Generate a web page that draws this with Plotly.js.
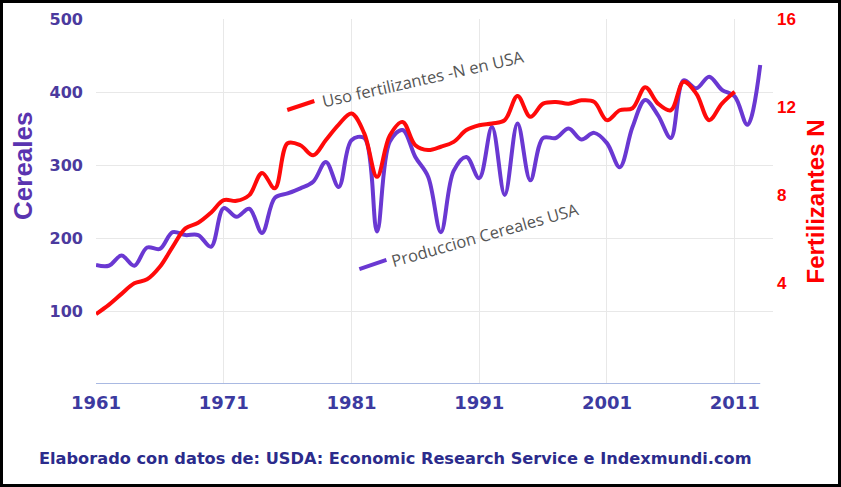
<!DOCTYPE html>
<html>
<head>
<meta charset="utf-8">
<script src="https://cdn.plot.ly/plotly-3.0.1.min.js"></script>
<style>
  html, body { margin: 0; padding: 0; background: #fff; }
  #wrap { position: relative; width: 841px; height: 487px; }
  #chart { width: 841px; height: 487px; }
  #frame { position: absolute; left: 0; top: 0; width: 841px; height: 487px; box-sizing: border-box; border: 3px solid #000; pointer-events: none; }
</style>
</head>
<body>
<div id="wrap"><div id="chart"></div><div id="frame"></div></div>
<script>
const years = [];
for (let y = 1961; y <= 2013; y++) years.push(y);

const cereales = [163,162,176,162,187,185,208,204,204,188,
                  241,229,240,207,255,261,268,277,304,270,
                  334,337,209,332,348,311,284,208,292,311,
                  282,352,259,357,279,337,337,350,335,344,
                  330,297,352,389,368,337,416,405,421,403,
                  394,355,437];

const fertilizantes = [2.58,3.0,3.5,3.98,4.16,4.73,5.64,6.48,6.73,7.19,
                       7.76,7.73,7.99,9.0,8.3,10.35,10.26,9.8,10.5,11.2,
                       11.7,10.8,8.82,10.7,11.32,10.26,10.04,10.19,10.41,10.95,
                       11.17,11.25,11.4,12.5,11.55,12.15,12.23,12.15,12.3,12.23,
                       11.4,11.85,11.94,12.9,12.15,11.85,13.14,12.6,11.4,12.15,
                       12.69];
const fertYears = years.slice(0, fertilizantes.length);

const xTicks = [1961, 1971, 1981, 1991, 2001, 2011];
const leftTicks = [100, 200, 300, 400, 500];
const rightTicks = [4, 8, 12, 16];

const purple = '#6a38d2';
const red = '#ff0a0a';

const traces = [
  { x: years, y: cereales, type: 'scatter', mode: 'lines', name: 'Produccion Cereales USA',
    line: { color: purple, width: 4, shape: 'spline', smoothing: 1 }, yaxis: 'y' },
  { x: fertYears, y: fertilizantes, type: 'scatter', mode: 'lines', name: 'Uso fertilizantes -N en USA',
    line: { color: red, width: 4, shape: 'spline', smoothing: 1 }, yaxis: 'y2' }
];

const layout = {
  width: 841, height: 487,
  margin: { l: 96, r: 68, t: 19, b: 103 },
  paper_bgcolor: '#fff', plot_bgcolor: '#fff',
  showlegend: false,
  xaxis: {
    range: [1961, 2014], tickvals: xTicks, ticktext: xTicks.map(String),
    showgrid: true, gridcolor: '#e8e8e8', gridwidth: 1, zeroline: false, showline: false,
    ticks: '', ticklabelstandoff: 6,
    tickfont: { family: 'DejaVu Sans', size: 18, color: '#3c3aa0', weight: 'bold' }
  },
  yaxis: {
    range: [0, 500], tickvals: leftTicks, ticktext: leftTicks.map(String),
    showgrid: true, gridcolor: '#e8e8e8', gridwidth: 1, zeroline: false, showline: false,
    ticks: '', ticklabelstandoff: 12,
    tickfont: { family: 'DejaVu Sans', size: 16, color: '#4b3a9e', weight: 'bold' }
  },
  yaxis2: {
    overlaying: 'y', side: 'right', range: [-0.6, 16],
    tickvals: rightTicks, ticktext: rightTicks.map(String),
    showgrid: false, zeroline: false, showline: false, ticks: '', ticklabelstandoff: 3,
    tickfont: { family: 'Liberation Sans', size: 17, color: '#ff0000', weight: 'bold' },
    title: { text: 'Fertilizantes N', standoff: 12,
             font: { family: 'Liberation Sans', size: 24, color: '#ff0000', weight: 'bold' } }
  },
  shapes: [
    { type: 'line', xref: 'x', yref: 'y', x0: years[0], x1: years[years.length - 1], y0: 0, y1: 0,
      line: { color: '#a9b9e2', width: 2 } },
    { type: 'line', xref: 'paper', yref: 'paper', x0: 0.2825, y0: 0.7507, x1: 0.3225, y1: 0.7753,
      line: { color: red, width: 4 } },
    { type: 'line', xref: 'paper', yref: 'paper', x0: 0.389, y0: 0.315, x1: 0.429, y1: 0.340,
      line: { color: purple, width: 4 } }
  ],
  annotations: [
    { text: 'Cereales', xref: 'paper', yref: 'paper', x: -0.108, y: 0.597, xanchor: 'center', yanchor: 'middle',
      textangle: -90, showarrow: false,
      font: { family: 'Liberation Sans', size: 26, color: '#5a34b0', weight: 'bold' } },
    { text: 'Uso fertilizantes -N en USA', xref: 'paper', yref: 'paper', x: 0.483, y: 0.836,
      xanchor: 'center', yanchor: 'middle', textangle: -12.7, showarrow: false,
      font: { family: 'Open Sans', size: 16.5, color: '#555555' } },
    { text: 'Produccion Cereales USA', xref: 'paper', yref: 'paper', x: 0.575, y: 0.41,
      xanchor: 'center', yanchor: 'middle', textangle: -15.8, showarrow: false,
      font: { family: 'Open Sans', size: 16.5, color: '#555555' } },
    { text: 'Elaborado con datos de: USDA: Economic Research Service e Indexmundi.com',
      xref: 'paper', yref: 'paper', x: 0.442, y: -0.203, xanchor: 'center', yanchor: 'middle',
      showarrow: false,
      font: { family: 'DejaVu Sans', size: 16.2, color: '#2b2b8c', weight: 'bold' } }
  ]
};

Plotly.newPlot('chart', traces, layout, { displayModeBar: false, staticPlot: true });
</script>
</body>
</html>
